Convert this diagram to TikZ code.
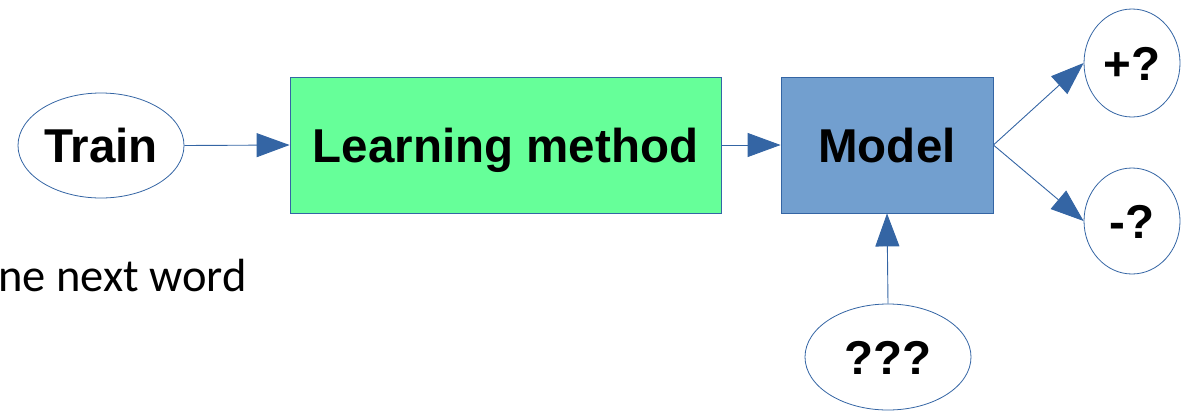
\documentclass[tikz,border=0pt]{standalone}
\usepackage{fontspec}
\setmainfont{Liberation Sans}
\newfontfamily\bodyfont{Carlito}
\usetikzlibrary{shapes.geometric,arrows.meta}
\definecolor{edgeblue}{HTML}{3465A4}
\definecolor{lgreen}{HTML}{66FF99}
\definecolor{mblue}{HTML}{729FCF}
\tikzset{
  lbl/.style={font=\fontsize{47.5}{52}\selectfont\bfseries, text=black, text height=34pt, text depth=0pt},
  oval/.style={ellipse, draw=edgeblue, line width=0.8pt, fill=white, inner sep=0pt, lbl},
  boxnode/.style={rectangle, draw=edgeblue, line width=0.8pt, inner sep=0pt, lbl},
  conn/.style={draw=edgeblue, line width=0.9pt, -{Triangle[length=33pt,width=24pt]}, shorten >=0pt},
}
\begin{document}
\begin{tikzpicture}[x=1pt,y=-1pt]
\useasboundingbox (0,0) rectangle (1182,410);
\clip (0,0) rectangle (1182,410);
\node[oval, minimum width=166pt, minimum height=105pt] (train) at (101,145.5) {Train};
\node[boxnode, fill=lgreen, minimum width=431pt, minimum height=136pt] (learn) at (505.5,145) {Learning method};
\node[boxnode, fill=mblue, minimum width=212pt, minimum height=136pt] (model) at (887,145) {Model};
\node[oval, minimum width=96pt, minimum height=108pt] (plus) at (1132,63) {+?};
\node[oval, minimum width=96pt, minimum height=106pt] (minus) at (1132,221) {-?};
\node[oval, minimum width=166pt, minimum height=106pt] (qqq) at (888,357) {???};
\node[anchor=base east, inner sep=0pt, font=\bodyfont\fontsize{46.5}{50}\selectfont] (txt) at (247,291) {ne next word};
\draw[conn] (train.east) -- (learn.west);
\draw[conn] (learn.east) -- (model.west);
\draw[conn] (model.east) -- (plus.west);
\draw[conn] (model.east) -- (minus.west);
\draw[conn] (qqq.north) -- (model.south);
\end{tikzpicture}
\end{document}
